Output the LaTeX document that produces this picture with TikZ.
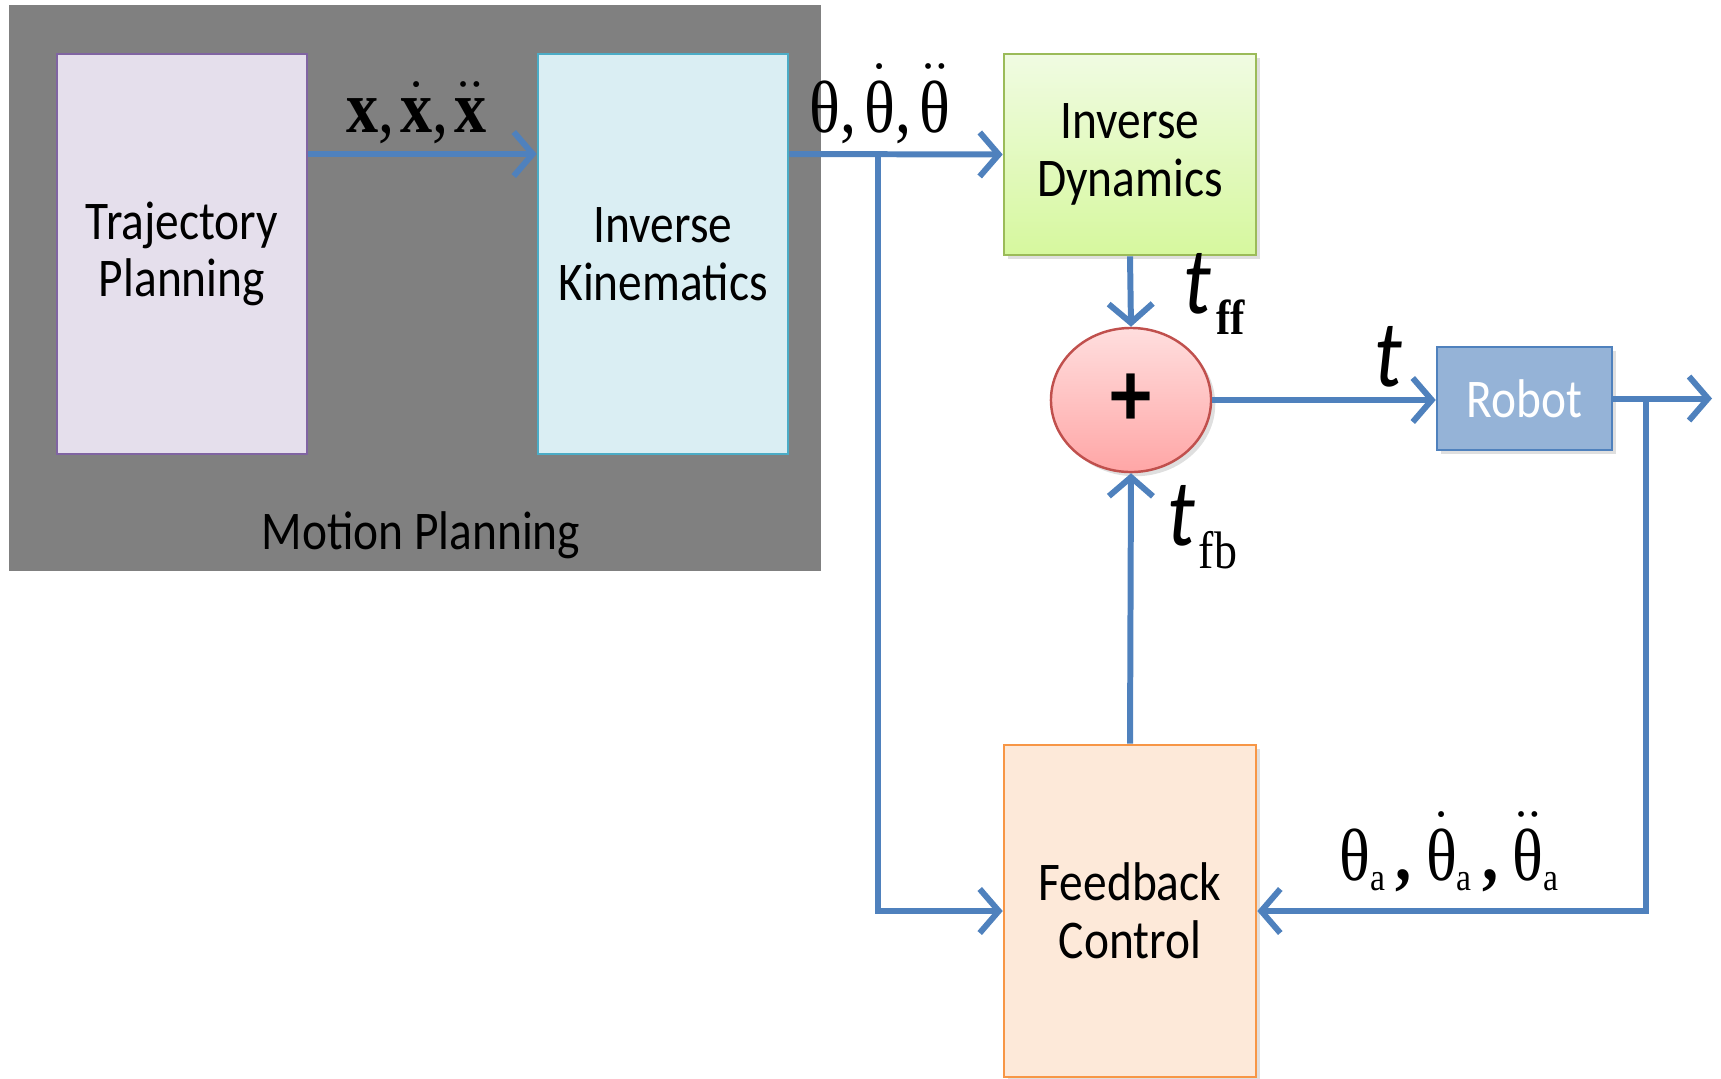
\documentclass[tikz,border=0pt]{standalone}
\usepackage{fontspec}
\setmainfont{Carlito}[FakeStretch=0.87]
\newfontfamily\tms{Liberation Serif}[FakeStretch=0.87]
\usepackage{tikz}
\usetikzlibrary{arrows.meta, shapes.geometric, shadows}

\definecolor{flowblue}{HTML}{4F81BD}
\definecolor{mpgray}{HTML}{808080}
\definecolor{tpfill}{HTML}{E5DFEC}
\definecolor{tpline}{HTML}{8064A2}
\definecolor{ikfill}{HTML}{DAEEF3}
\definecolor{ikline}{HTML}{4BACC6}
\definecolor{idtop}{HTML}{F0FBE2}
\definecolor{idbot}{HTML}{D6F89E}
\definecolor{idline}{HTML}{9BBB59}
\definecolor{sumtop}{HTML}{FFDEDE}
\definecolor{sumbot}{HTML}{FFA6A6}
\definecolor{sumline}{HTML}{C0504D}
\definecolor{rbfill}{HTML}{95B3D7}
\definecolor{fcfill}{HTML}{FDE9D9}
\definecolor{fcline}{HTML}{F79646}

\newcommand{\asub}{\raisebox{-3pt}{\fontsize{11}{11}\selectfont a}}

\tikzset{
	block/.style={draw, line width=0.7pt, align=center, inner sep=2pt,
		font=\fontsize{15.5}{16.4}\selectfont,
		drop shadow={shadow xshift=1.2pt, shadow yshift=-1.2pt, opacity=0.25}},
	flow/.style={draw=flowblue, line width=1.7pt,
		-{Straight Barb[length=0.19cm, width=0.44cm, line width=1.7pt]}},
	sym/.style={inner sep=0pt, font=\tms\fontsize{21}{21}\selectfont},
	tsym/.style={inner sep=0pt, font=\fontsize{27}{27}\selectfont\itshape},
}

\begin{document}
\begin{tikzpicture}[x=0.01cm, y=-0.01cm]
		\useasboundingbox (0,0) rectangle (1721,1078);

		% motion planning group
		\fill[mpgray] (9,5) rectangle (821,571);
		\node[font=\fontsize{15.5}{16.4}\selectfont] (mp) at (421,535) {Motion Planning};

		\node[block, fill=tpfill, draw=tpline, minimum width=2.5cm, minimum height=4cm] (tp) at (182,254) {Trajectory\\Planning};
		\node[block, fill=ikfill, draw=ikline, minimum width=2.5cm, minimum height=4cm] (ik) at (663,254) {Inverse\\Kinematics};

		% control loop
		\node[block, top color=idtop, bottom color=idbot, draw=idline, minimum width=2.52cm, minimum height=2.01cm] (id) at (1130,154.5) {Inverse\\Dynamics};
		\node[ellipse, draw=sumline, line width=0.7pt, top color=sumtop, bottom color=sumbot, minimum width=1.6cm, minimum height=1.44cm, inner sep=0pt,
			drop shadow={shadow xshift=1.2pt, shadow yshift=-1.2pt, opacity=0.25},
			font=\fontsize{27}{27}\selectfont\bfseries] (sum) at (1131,400) {+};
		\node[block, fill=rbfill, draw=flowblue, text=white, minimum width=1.75cm, minimum height=1.03cm] (rb) at (1524.5,398.5) {Robot};
		\node[block, fill=fcfill, draw=fcline, minimum width=2.52cm, minimum height=3.32cm] (fc) at (1130,911) {Feedback\\Control};

		% labels
		\node[sym, anchor=base west] (lx) at (346,132) {{\bfseries x},\hspace{1.6pt}$\dot{\hbox{\bfseries x}}$,\hspace{1.6pt}$\ddot{\hbox{\bfseries x}}$};
		\node[sym, anchor=base west] (lq) at (809,132) {θ,\hspace{2.3pt}$\dot{\hbox{θ}}$,\hspace{2.3pt}$\ddot{\hbox{θ}}$};
		\node[tsym, anchor=base west] (ltff) at (1183,313) {t\hspace{1.5pt}\raisebox{-6.2pt}{\tms\upshape\bfseries\fontsize{14}{14}\selectfont ff}};
		\node[tsym, anchor=base west] (ltfb) at (1167,545) {t\hspace{1pt}\raisebox{-6.8pt}{\tms\upshape\fontsize{15}{15}\selectfont fb}};
		\node[tsym, anchor=base west] (lt) at (1374,386) {t};
		\node[sym, anchor=base west] (lqa) at (1339,880) {θ\asub\hspace{3pt}{\bfseries,}\hspace{4pt}$\dot{\hbox{θ}}$\asub\hspace{3pt}{\bfseries,}\hspace{4pt}$\ddot{\hbox{θ}}$\asub};

		\coordinate (lvl) at (0,154);
		\coordinate (br) at (878,154);
		\coordinate (tap) at (1646,0);
		\coordinate (out) at (1712,0);

		\draw[flow] (tp.east |- lvl) -- (ik.west |- lvl);
		\draw[flow] (ik.east |- lvl) -- (id.west);
		\draw[flow] (br) |- (fc.west);
		\draw[flow] (id.south) -- (sum.north);
		\draw[flow] (fc.north) -- (sum.south);
		\draw[flow] (sum.east) -- (sum.east -| rb.west);
		\draw[flow] (rb.east) -- (rb.east -| out);
		\draw[flow] (rb.east -| tap) |- (fc.east);
	\end{tikzpicture}
\end{document}
